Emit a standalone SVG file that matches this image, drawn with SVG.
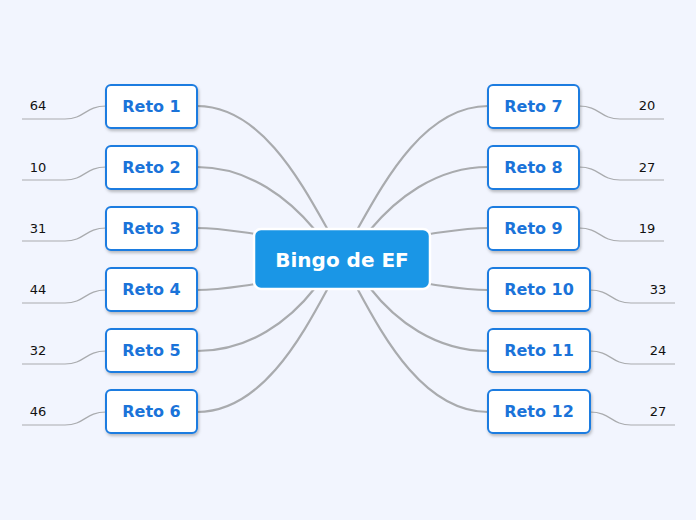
<svg xmlns="http://www.w3.org/2000/svg" width="696" height="520" viewBox="0 0 696 520">
<defs>
<filter id="sh" x="-20%" y="-20%" width="140%" height="150%">
<feDropShadow dx="1" dy="2" stdDeviation="1.5" flood-color="#000" flood-opacity="0.25"/>
</filter>
<style>
.node rect{fill:#fff;stroke:#1b7be0;stroke-width:2}
.node text{font-family:"DejaVu Sans",Verdana,sans-serif;font-weight:bold;font-size:16px;fill:#1a73d9;text-anchor:middle;dominant-baseline:central}
.main{fill:none;stroke:#a9abae;stroke-width:2.2}
.sub{fill:none;stroke:#a9abae;stroke-width:1.2}
.num{font-family:"DejaVu Sans",Verdana,sans-serif;font-size:13px;fill:#111;text-anchor:middle}
</style>
</defs>
<rect width="696" height="520" fill="#f2f5fe"/>
<g id="connectors">
<path class="main" d="M197,106 C260,106 300,180 328,230"/>
<path class="main" d="M197,167 C250,167 290,200 315,230"/>
<path class="main" d="M197,228 C220,228 240,232 256,234"/>
<path class="main" d="M197,290 C220,290 240,286 256,284"/>
<path class="main" d="M197,351 C250,351 290,320 315,288"/>
<path class="main" d="M197,412 C260,412 300,340 328,288"/>
<path class="main" d="M488,106 C425,106 385,180 357,230"/>
<path class="main" d="M488,167 C435,167 395,200 370,230"/>
<path class="main" d="M488,228 C465,228 445,232 429,234"/>
<path class="main" d="M488,290 C465,290 445,286 429,284"/>
<path class="main" d="M488,351 C435,351 395,320 370,288"/>
<path class="main" d="M488,412 C425,412 385,340 357,288"/>
<path class="sub" d="M106,106 C85,106 85,119 65,119 L22,119"/>
<path class="sub" d="M106,167 C85,167 85,180 65,180 L22,180"/>
<path class="sub" d="M106,228 C85,228 85,241 65,241 L22,241"/>
<path class="sub" d="M106,290 C85,290 85,303 65,303 L22,303"/>
<path class="sub" d="M106,351 C85,351 85,364 65,364 L22,364"/>
<path class="sub" d="M106,412 C85,412 85,425 65,425 L22,425"/>
<path class="sub" d="M579,106 C600,106 600,119 620,119 L664,119"/>
<path class="sub" d="M579,167 C600,167 600,180 620,180 L664,180"/>
<path class="sub" d="M579,228 C600,228 600,241 620,241 L664,241"/>
<path class="sub" d="M590,290 C611,290 611,303 631,303 L675,303"/>
<path class="sub" d="M590,351 C611,351 611,364 631,364 L675,364"/>
<path class="sub" d="M590,412 C611,412 611,425 631,425 L675,425"/>
</g>
<g id="center">
<rect x="254" y="229" width="176" height="60" rx="7" fill="#1a96e6" stroke="#fff" stroke-width="2.5"/>
<text x="342" y="260" font-family="DejaVu Sans,Verdana,sans-serif" font-weight="bold" font-size="20" fill="#fff" text-anchor="middle" dominant-baseline="central">Bingo de EF</text>
</g>
<g id="reto1" class="node"><rect x="106" y="85" width="91" height="43" rx="5" filter="url(#sh)"/><text x="151.5" y="106.5">Reto 1</text></g>
<g id="reto2" class="node"><rect x="106" y="146" width="91" height="43" rx="5" filter="url(#sh)"/><text x="151.5" y="167.5">Reto 2</text></g>
<g id="reto3" class="node"><rect x="106" y="207" width="91" height="43" rx="5" filter="url(#sh)"/><text x="151.5" y="228.5">Reto 3</text></g>
<g id="reto4" class="node"><rect x="106" y="268" width="91" height="43" rx="5" filter="url(#sh)"/><text x="151.5" y="289.5">Reto 4</text></g>
<g id="reto5" class="node"><rect x="106" y="329" width="91" height="43" rx="5" filter="url(#sh)"/><text x="151.5" y="350.5">Reto 5</text></g>
<g id="reto6" class="node"><rect x="106" y="390" width="91" height="43" rx="5" filter="url(#sh)"/><text x="151.5" y="411.5">Reto 6</text></g>
<g id="reto7" class="node"><rect x="488" y="85" width="91" height="43" rx="5" filter="url(#sh)"/><text x="533.5" y="106.5">Reto 7</text></g>
<g id="reto8" class="node"><rect x="488" y="146" width="91" height="43" rx="5" filter="url(#sh)"/><text x="533.5" y="167.5">Reto 8</text></g>
<g id="reto9" class="node"><rect x="488" y="207" width="91" height="43" rx="5" filter="url(#sh)"/><text x="533.5" y="228.5">Reto 9</text></g>
<g id="reto10" class="node"><rect x="488" y="268" width="102" height="43" rx="5" filter="url(#sh)"/><text x="539" y="289.5">Reto 10</text></g>
<g id="reto11" class="node"><rect x="488" y="329" width="102" height="43" rx="5" filter="url(#sh)"/><text x="539" y="350.5">Reto 11</text></g>
<g id="reto12" class="node"><rect x="488" y="390" width="102" height="43" rx="5" filter="url(#sh)"/><text x="539" y="411.5">Reto 12</text></g>
<g id="labels">
<text class="num" x="38" y="110">64</text>
<text class="num" x="38" y="172">10</text>
<text class="num" x="38" y="233">31</text>
<text class="num" x="38" y="294">44</text>
<text class="num" x="38" y="355">32</text>
<text class="num" x="38" y="416">46</text>
<text class="num" x="647" y="110">20</text>
<text class="num" x="647" y="172">27</text>
<text class="num" x="647" y="233">19</text>
<text class="num" x="658" y="294">33</text>
<text class="num" x="658" y="355">24</text>
<text class="num" x="658" y="416">27</text>
</g>
</svg>
